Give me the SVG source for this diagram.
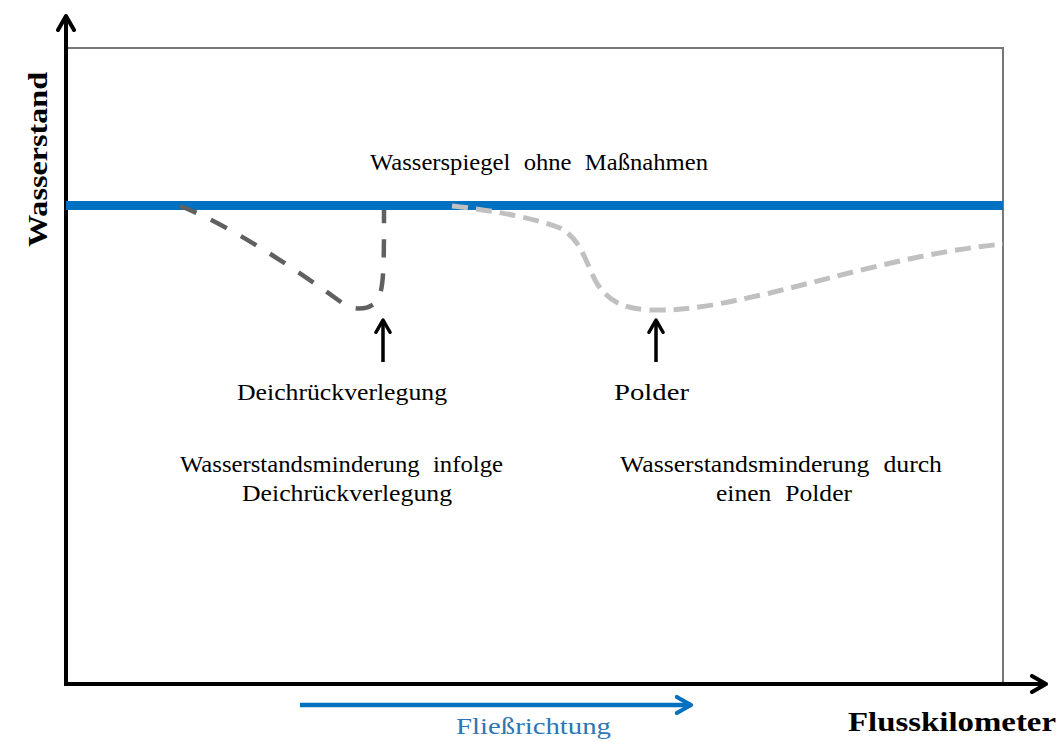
<svg xmlns="http://www.w3.org/2000/svg" width="1062" height="742" viewBox="0 0 1062 742">
<style>
.t{font-family:"Liberation Serif","Times New Roman",serif;font-size:24px;fill:#000}
.w{word-spacing:7px}
.b{font-weight:bold;font-size:28px}
</style>
<defs>
<marker id="ah" viewBox="0 0 10 10" refX="8" refY="5" markerWidth="5" markerHeight="5" orient="auto" markerUnits="strokeWidth">
<path d="M1,1 L8,5 L1,9" fill="none" stroke="#000" stroke-width="2" stroke-linecap="round" stroke-linejoin="round"/>
</marker>
<marker id="ahb" viewBox="0 0 10 10" refX="8" refY="5" markerWidth="4.5" markerHeight="4.5" orient="auto" markerUnits="strokeWidth">
<path d="M1,1 L8,5 L1,9" fill="none" stroke="#0070C0" stroke-width="2" stroke-linecap="round" stroke-linejoin="round"/>
</marker>
</defs>
<rect width="1062" height="742" fill="#fff"/>
<g id="frame">
<polyline points="66,48 1003,48 1003,684" fill="none" stroke="#777" stroke-width="2"/>
</g>
<g id="axes">
<line x1="66" y1="686" x2="66" y2="16" stroke="#000" stroke-width="4" marker-end="url(#ah)"/>
<line x1="64" y1="684" x2="1046" y2="684" stroke="#000" stroke-width="4" marker-end="url(#ah)"/>
</g>
<g id="connectors">
<line x1="66" y1="205.5" x2="1003" y2="205.5" stroke="#0070C0" stroke-width="9"/>
<path d="M180,206 C230,225 300,272 345,305 C355,310 368,310 376,302 C384,292 384,270 384,210" fill="none" stroke="#606060" stroke-width="4.5" stroke-dasharray="18,16"/>
<path d="M452,206 C500,211 540,220 560,228 C580,238 585,260 595,280 C607,302 625,309 650,310 C690,311 720,304 770,293 C840,276 920,252 1003,244" fill="none" stroke="#c0c0c0" stroke-width="5" stroke-dasharray="16,8"/>
<line x1="383" y1="362" x2="383" y2="320" stroke="#000" stroke-width="3.5" marker-end="url(#ah)"/>
<line x1="656" y1="362" x2="656" y2="320" stroke="#000" stroke-width="3.5" marker-end="url(#ah)"/>
<line x1="300" y1="705" x2="691" y2="705" stroke="#0070C0" stroke-width="4.5" marker-end="url(#ahb)"/>
</g>
<g id="labels">
<text class="t w" x="370" y="170" textLength="338" lengthAdjust="spacingAndGlyphs">Wasserspiegel ohne Maßnahmen</text>
<text class="t" x="237" y="400" textLength="210" lengthAdjust="spacingAndGlyphs">Deichrückverlegung</text>
<text class="t" x="614" y="400" textLength="75" lengthAdjust="spacingAndGlyphs">Polder</text>
<text class="t w" x="180" y="472" textLength="323" lengthAdjust="spacingAndGlyphs">Wasserstandsminderung infolge</text>
<text class="t" x="242" y="501" textLength="210" lengthAdjust="spacingAndGlyphs">Deichrückverlegung</text>
<text class="t w" x="620" y="472" textLength="322" lengthAdjust="spacingAndGlyphs">Wasserstandsminderung durch</text>
<text class="t w" x="716" y="501" textLength="136" lengthAdjust="spacingAndGlyphs">einen Polder</text>
<text class="t b" transform="translate(47,247) rotate(-90)" textLength="175" lengthAdjust="spacingAndGlyphs">Wasserstand</text>
<text class="t b" x="848" y="731" textLength="208" lengthAdjust="spacingAndGlyphs">Flusskilometer</text>
<text class="t" x="456" y="734" textLength="155" lengthAdjust="spacingAndGlyphs" style="fill:#2E75B6">Fließrichtung</text>
</g>
</svg>
